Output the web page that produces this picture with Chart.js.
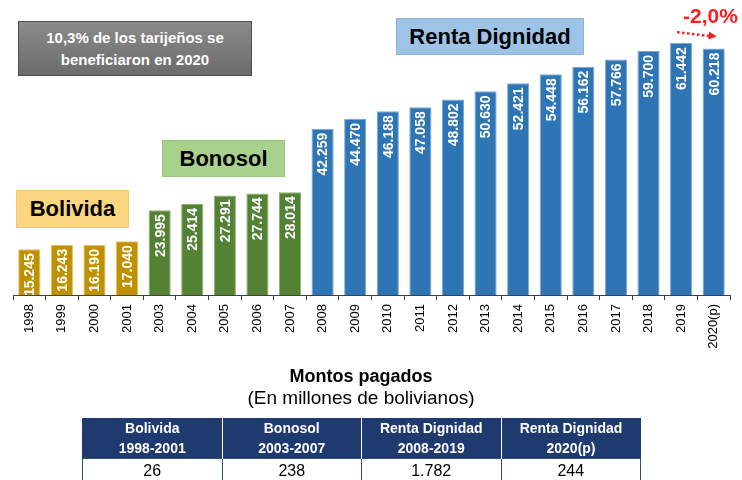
<!DOCTYPE html>
<html>
<head>
<meta charset="utf-8">
<script src="https://cdn.jsdelivr.net/npm/chart.js@4/dist/chart.umd.min.js"></script>
<style>
  html, body { margin: 0; padding: 0; background: #fff; }
  body { width: 742px; height: 480px; position: relative; overflow: hidden; font-family: Arial, "Liberation Sans", sans-serif; }
  #chart { position: absolute; left: 0; top: 0; }
  .box { position: absolute; box-sizing: border-box; display: flex; align-items: center; justify-content: center; font-weight: bold; font-size: 22px; color: #000; }
  .gray { left: 18px; top: 21px; width: 234px; height: 55px; background: linear-gradient(#8a8a8a, #6c6c6c); border: 1px solid #505050; color: #fff; font-size: 15px; line-height: 22px; text-align: center; flex-direction: column; }
  .renta { left: 396px; top: 18px; width: 188px; height: 37px; background: #9dc3e6; border: 1px solid #8db5dc; }
  .bono { left: 162px; top: 140px; width: 123px; height: 37px; background: #a9d18e; border: 1px solid #98c47c; }
  .boli { left: 16px; top: 190px; width: 113px; height: 38px; background: #fcd67f; border: 1px solid #f2c86c; }
  .pct { position: absolute; left: 683px; top: 4px; font-size: 21px; font-weight: bold; color: #ff1e1e; }
  .ttl { position: absolute; left: 0; width: 722px; text-align: center; color: #000; }
  table { position: absolute; left: 82px; top: 418px; width: 559px; border-collapse: collapse; table-layout: fixed; }
  th { background: #1f3a6e; color: #fff; font-size: 14px; font-weight: bold; line-height: 20px; height: 40px; padding: 0; border-left: 1px solid #fff; }
  th:first-child { border-left: 1px solid #1f3a6e; }
  td { border: 1px solid #3a4a78; text-align: center; font-size: 16px; height: 24px; padding: 0; color: #000; }
</style>
</head>
<body>
<canvas id="chart" width="742" height="480"></canvas>
<div class="box gray"><div>10,3% de los tarijeños se</div><div>beneficiaron en 2020</div></div>
<div class="box renta">Renta Dignidad</div>
<div class="box bono">Bonosol</div>
<div class="box boli">Bolivida</div>
<div class="pct">-2,0%</div>
<div class="ttl" style="top:366px;font-size:18px;font-weight:bold;">Montos pagados</div>
<div class="ttl" style="top:387px;font-size:19px;">(En millones de bolivianos)</div>
<table id="tbl"><thead><tr></tr></thead><tbody><tr></tr></tbody></table>
<script>
// pagos por año (miles de bolivianos)
const years = ["1998", "1999", "2000", "2001", "2003", "2004", "2005", "2006", "2007",
  "2008", "2009", "2010", "2011", "2012", "2013", "2014", "2015", "2016", "2017", "2018", "2019", "2020(p)"];
const payments = [15245, 16243, 16190, 17040, 23995, 25414, 27291, 27744, 28014,
  42259, 44470, 46188, 47058, 48802, 50630, 52421, 54448, 56162, 57766, 59700, 61442, 60218];
const programs = ["Bolivida", "Bolivida", "Bolivida", "Bolivida",
  "Bonosol", "Bonosol", "Bonosol", "Bonosol", "Bonosol",
  "Renta", "Renta", "Renta", "Renta", "Renta", "Renta", "Renta", "Renta", "Renta", "Renta", "Renta", "Renta", "Renta"];

// tabla de montos pagados
const tableHeads = [["Bolivida", "1998-2001"], ["Bonosol", "2003-2007"], ["Renta Dignidad", "2008-2019"], ["Renta Dignidad", "2020(p)"]];
const tableTotals = ["26", "238", "1.782", "244"];

const fillColors = { Bolivida: "#bf9000", Bonosol: "#548235", Renta: "#2e75b6" };
const edgeColors = { Bolivida: "#e0c060", Bonosol: "#8fb070", Renta: "#7aa8d8" };

const headRow = document.querySelector("#tbl thead tr");
const bodyRow = document.querySelector("#tbl tbody tr");
tableHeads.forEach((h) => {
  const th = document.createElement("th");
  th.innerHTML = h[0] + "<br>" + h[1];
  headRow.appendChild(th);
});
tableTotals.forEach((t) => {
  const td = document.createElement("td");
  td.textContent = t;
  bodyRow.appendChild(td);
});

const fmt = (n) => String(n).replace(/\B(?=(\d{3})+(?!\d))/g, ".");

const barLabels = {
  id: "barLabels",
  afterDatasetsDraw(chart) {
    const ctx = chart.ctx;
    const area = chart.chartArea;
    const bars = chart.getDatasetMeta(0).data;
    ctx.save();
    ctx.beginPath();
    ctx.rect(area.left, area.top, area.right - area.left, area.bottom - area.top);
    ctx.clip();
    ctx.fillStyle = "#fff";
    ctx.font = "bold 14px Arial, 'Liberation Sans'";
    ctx.textAlign = "right";
    ctx.textBaseline = "middle";
    bars.forEach((bar, i) => {
      ctx.save();
      ctx.translate(bar.x + 1, bar.y + 4);
      ctx.rotate(-Math.PI / 2);
      ctx.fillText(fmt(payments[i]), 0, 0);
      ctx.restore();
    });
    ctx.restore();

    // flecha punteada entre 2019 y 2020
    const a = bars[bars.length - 2];
    const b = bars[bars.length - 1];
    const x0 = a.x - 4, y0 = a.y - 11;
    const x1 = b.x + 1, y1 = a.y - 7;
    ctx.save();
    ctx.strokeStyle = "#ff1e1e";
    ctx.fillStyle = "#ff1e1e";
    ctx.lineWidth = 2.5;
    ctx.setLineDash([2.5, 2.5]);
    ctx.beginPath();
    ctx.moveTo(x0, y0);
    ctx.lineTo(x1 - 5, y1);
    ctx.stroke();
    ctx.setLineDash([]);
    const ang = Math.atan2(y1 - y0, x1 - x0);
    ctx.beginPath();
    ctx.moveTo(x1 + 2, y1 + 0.5);
    ctx.lineTo(x1 - 6 * Math.cos(ang) + 4 * Math.sin(ang), y1 - 6 * Math.sin(ang) - 4 * Math.cos(ang));
    ctx.lineTo(x1 - 6 * Math.cos(ang) - 4 * Math.sin(ang), y1 - 6 * Math.sin(ang) + 4 * Math.cos(ang));
    ctx.closePath();
    ctx.fill();
    ctx.restore();
  },
};

new Chart(document.querySelector("#chart"), {
  type: "bar",
  data: {
    labels: years,
    datasets: [
      {
        data: payments,
        backgroundColor: programs.map((p) => fillColors[p]),
        borderColor: programs.map((p) => edgeColors[p]),
        borderWidth: 1,
        barPercentage: 0.68,
        categoryPercentage: 1,
      },
    ],
  },
  options: {
    responsive: false,
    animation: false,
    devicePixelRatio: 1,
    layout: { padding: { left: 13, right: 12, top: 0, bottom: 125 } },
    plugins: { legend: { display: false }, tooltip: { enabled: false } },
    scales: {
      x: {
        offset: true,
        grid: { display: true, drawOnChartArea: false, drawTicks: true, tickLength: 5, color: "#404040", offset: true },
        border: { display: true, color: "#404040", width: 1 },
        ticks: {
          color: "#000",
          font: { family: "Arial, 'Liberation Sans'", size: 13 },
          minRotation: 90,
          maxRotation: 90,
          padding: 4,
          autoSkip: false,
        },
        afterFit: (s) => { s.height = 60; },
      },
      y: { display: false, min: 5000, max: 71100 },
    },
  },
  plugins: [barLabels],
});
</script>
</body>
</html>
